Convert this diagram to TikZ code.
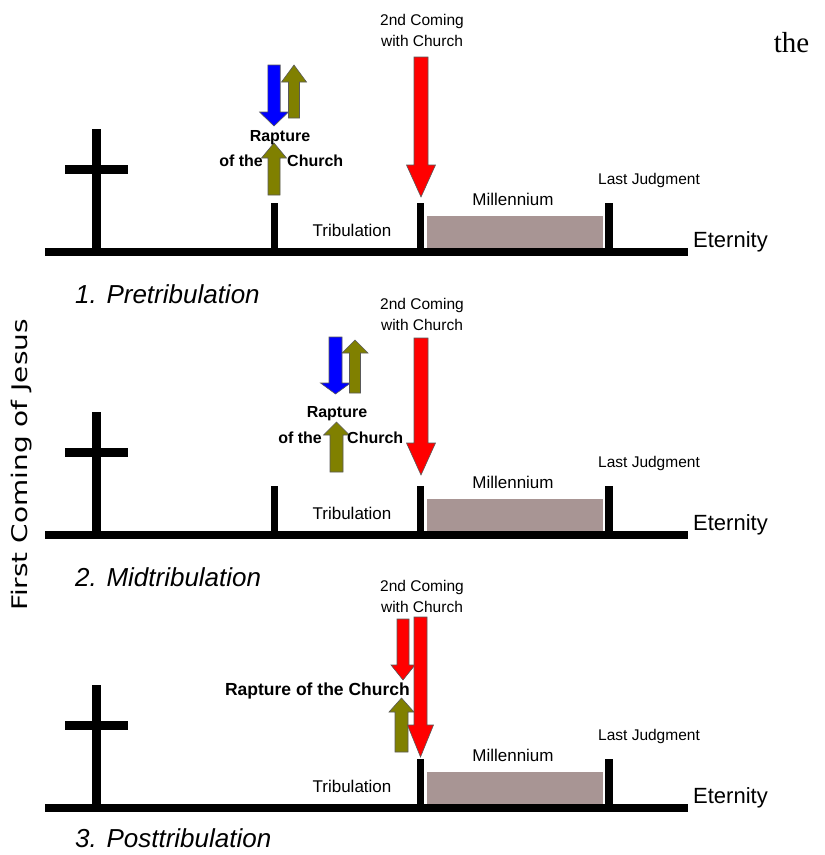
\documentclass[tikz,border=0pt]{standalone}
\usepackage{fontspec}
\setmainfont{Liberation Sans}
\newfontfamily\serifface{Liberation Serif}
\newfontfamily\sideface[FakeStretch=1.3]{DejaVu Sans}
\usetikzlibrary{calc}
\definecolor{olivearrow}{RGB}{128,128,0}
\definecolor{millbox}{RGB}{168,149,148}
\tikzstyle{arrowline} = [draw=black!65, line width=0.6pt]
\tikzstyle{timebar}   = [line width=8pt]
\tikzstyle{crossbar}  = [line width=9pt]
\tikzstyle{tick}      = [line width=7.5pt]
\tikzstyle{txt}       = [inner sep=0pt, anchor=base, font=\fontsize{17}{20}\selectfont]
\tikzstyle{smalltxt}  = [inner sep=0pt, anchor=base, font=\fontsize{15.5}{18}\selectfont]
\tikzstyle{boldtxt}   = [inner sep=0pt, anchor=base, font=\bfseries\fontsize{16}{19}\selectfont]
\tikzstyle{paneltxt}  = [inner sep=0pt, anchor=base west, font=\itshape\fontsize{26}{28}\selectfont]
% colour, x, y tail, y head base, y tip, half shaft, half head
\newcommand{\blockarrow}[7]{%
  \filldraw[arrowline, fill=#1] (#2-#6,#3) -- (#2+#6,#3) -- (#2+#6,#4) -- (#2+#7,#4)
    -- (#2,#5) -- (#2-#7,#4) -- (#2-#6,#4) -- cycle;}

\begin{document}
\begin{tikzpicture}[x=1pt,y=-1pt]
  \useasboundingbox (0,0) rectangle (825,855);

  %the three time lines
  \foreach \p/\o/\c in {1/0/0, 2/283/284, 3/556/566}{
    \fill[millbox] (427,216+\o) rectangle (603,248+\o);
    \draw[timebar] (45,252+\o) -- (688,252+\o);
    \draw[crossbar] (96.5,129+\o) -- (96.5,252+\o);
    \draw[crossbar] (65,169.5+\o) -- (128,169.5+\o);
    \draw[tick] (420.5,203+\o) -- (420.5,252+\o);
    \draw[tick] (609,203+\o) -- (609,252+\o);
    \node[txt] (trib\p) at (352,236+\o) {Tribulation};
    \node[txt] (mill\p) at (513,205+\o) {Millennium};
    \node[smalltxt] (judg\p) at (649,184+\o) {Last Judgment};
    \node[txt, anchor=base west, font=\fontsize{22}{24}\selectfont] (eter\p) at (693,247+\o) {Eternity};
    \node[smalltxt] (second\p) at (422,25+\c) {2nd Coming};
    \node[smalltxt] (with\p) at (422,46+\c) {with Church};
  }

  %tick for the rapture before the tribulation
  \foreach \o in {0,283}{
    \draw[tick] (274.5,203+\o) -- (274.5,252+\o);
  }

  \foreach \p/\y/\name in {1/303/1. Pretribulation, 2/586/2. Midtribulation, 3/847/3. Posttribulation}{
    \node[paneltxt] (label\p) at (75,\y) {\name};
  }

  %second coming
  \blockarrow{red}{421}{57}{165}{197}{7}{14.5}
  \blockarrow{red}{421}{338}{443}{475}{7}{14.5}

  %1. pretribulation rapture
  \blockarrow{blue}{274}{65}{112}{126}{6.2}{14.5}
  \blockarrow{olivearrow}{294}{118}{82}{65}{5.5}{12.5}
  \blockarrow{olivearrow}{274}{195}{158}{143}{6}{12.5}
  \node[boldtxt] (rap1) at (280,141) {Rapture};
  \node[boldtxt, anchor=base east] (ofthe1) at (263,166) {of the};
  \node[boldtxt, anchor=base west] (church1) at (287,166) {Church};

  %2. midtribulation rapture
  \blockarrow{blue}{335.5}{337}{383}{394}{6.5}{15}
  \blockarrow{olivearrow}{355}{393}{353}{340}{5.5}{13}
  \blockarrow{olivearrow}{336.5}{472}{435}{422}{6.5}{13}
  \node[boldtxt] (rap2) at (337,417) {Rapture};
  \node[boldtxt, anchor=base east] (ofthe2) at (322,443) {of the};
  \node[boldtxt, anchor=base west] (church2) at (347,443) {Church};

  %3. posttribulation rapture
  \blockarrow{red}{403}{619}{665}{680}{6}{12}
  \blockarrow{olivearrow}{401.5}{752}{712}{698}{6.5}{12.5}
  \blockarrow{red}{420.5}{617}{725}{757}{6.5}{13}
  \node[boldtxt, anchor=base east, font=\bfseries\fontsize{17.5}{20}\selectfont] (rap3) at (410,695) {Rapture of the Church};

  \node[rotate=90, inner sep=0pt, font=\sideface\fontsize{21.5}{24}\selectfont] (first) at (22,465) {First Coming of Jesus};
  \node[inner sep=0pt, anchor=base, font=\serifface\fontsize{29}{30}\selectfont] (the) at (791.5,52) {the};
\end{tikzpicture}
\end{document}
